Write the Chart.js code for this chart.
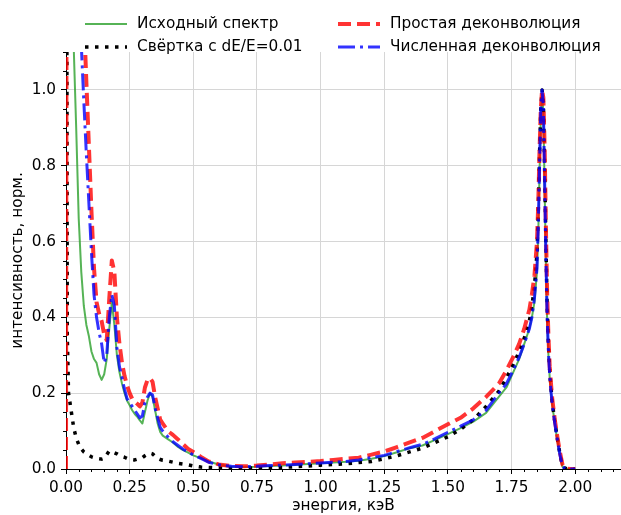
<!DOCTYPE html>
<html lang="ru">
<head>
<meta charset="utf-8">
<title>Деконволюция спектра</title>
<script src="https://cdn.jsdelivr.net/npm/chart.js@4.4.1/dist/chart.umd.min.js"></script>
<style>
  html, body { margin: 0; padding: 0; background: #fff; }
  #wrap { width: 621px; height: 515px; }
</style>
</head>
<body>
<div id="wrap"><canvas id="spectrum" width="621" height="515"></canvas></div>
<script>
// --- данные ---
const energy = [
  0, 0.005, 0.01, 0.02, 0.03, 0.04, 0.05, 0.06, 0.07, 0.08,
  0.09, 0.10, 0.11, 0.12, 0.13, 0.14, 0.15, 0.16, 0.17, 0.18,
  0.19, 0.20, 0.21, 0.22, 0.23, 0.24, 0.25, 0.26, 0.27, 0.28,
  0.29, 0.30, 0.31, 0.32, 0.33, 0.34, 0.35, 0.36, 0.37, 0.38,
  0.40, 0.42, 0.44, 0.46, 0.48, 0.50, 0.53, 0.56, 0.60, 0.65,
  0.70, 0.75, 0.80, 0.85, 0.90, 0.95, 1.00, 1.05, 1.10, 1.15,
  1.20, 1.25, 1.30, 1.35, 1.40, 1.45, 1.50, 1.55, 1.60, 1.65,
  1.70, 1.73, 1.76, 1.78, 1.80, 1.82, 1.83, 1.84, 1.85, 1.855,
  1.86, 1.865, 1.87, 1.875, 1.88, 1.885, 1.89, 1.895, 1.90, 1.905,
  1.91, 1.92, 1.93, 1.94, 1.95, 1.96, 1.98, 2.00
];
const sourceSpectrum = [
  5, 4, 3, 1.5, 1.12, 0.9, 0.66, 0.52, 0.43, 0.38,
  0.35, 0.31, 0.29, 0.28, 0.25, 0.235, 0.25, 0.29, 0.37, 0.44,
  0.38, 0.3, 0.255, 0.225, 0.2, 0.18, 0.168, 0.155, 0.145, 0.138,
  0.128, 0.12, 0.15, 0.18, 0.2, 0.19, 0.155, 0.12, 0.098, 0.088,
  0.079, 0.07, 0.058, 0.05, 0.043, 0.036, 0.028, 0.02, 0.012, 0.006,
  0.005, 0.006, 0.008, 0.009, 0.011, 0.013, 0.015, 0.017, 0.019, 0.022,
  0.027, 0.034, 0.044, 0.055, 0.062, 0.077, 0.092, 0.108, 0.125, 0.148,
  0.19, 0.215, 0.26, 0.29, 0.33, 0.37, 0.4, 0.44, 0.52, 0.62,
  0.78, 0.93, 0.99, 0.94, 0.74, 0.55, 0.39, 0.3, 0.24, 0.2,
  0.17, 0.12, 0.075, 0.037, 0.006, 0.001, 0, 0
];
const convolved = [
  3, 0.35, 0.2, 0.155, 0.11, 0.082, 0.065, 0.053, 0.045, 0.04,
  0.036, 0.032, 0.03, 0.028, 0.027, 0.026, 0.028, 0.038, 0.048, 0.046,
  0.043, 0.04, 0.036, 0.033, 0.031, 0.028, 0.026, 0.025, 0.024, 0.026,
  0.028, 0.03, 0.035, 0.039, 0.042, 0.04, 0.033, 0.028, 0.025, 0.023,
  0.021, 0.018, 0.015, 0.013, 0.011, 0.008, 0.005, 0.004, 0.003, 0.002,
  0.002, 0.003, 0.003, 0.004, 0.006, 0.008, 0.01, 0.012, 0.014, 0.017,
  0.02, 0.027, 0.035, 0.045, 0.055, 0.07, 0.085, 0.105, 0.13, 0.165,
  0.205, 0.24, 0.28, 0.31, 0.345, 0.39, 0.43, 0.48, 0.57, 0.68,
  0.83, 0.95, 1.0, 0.97, 0.8, 0.6, 0.43, 0.33, 0.26, 0.215,
  0.175, 0.125, 0.08, 0.04, 0.008, 0.002, 0, 0
];
const simpleDeconv = [
  0, 3, 3, 2.6, 2.2, 1.9, 1.6, 1.4, 1.2, 1.02,
  0.85, 0.68, 0.53, 0.44, 0.41, 0.39, 0.355, 0.34, 0.45, 0.55,
  0.52, 0.4, 0.33, 0.28, 0.245, 0.22, 0.2, 0.185, 0.178, 0.172,
  0.165, 0.175, 0.215, 0.235, 0.24, 0.23, 0.19, 0.16, 0.13, 0.12,
  0.1, 0.09, 0.078, 0.065, 0.053, 0.045, 0.032, 0.02, 0.012, 0.008,
  0.007, 0.009, 0.012, 0.015, 0.017, 0.019, 0.021, 0.024, 0.027, 0.03,
  0.038, 0.046, 0.058, 0.07, 0.082, 0.1, 0.118, 0.135, 0.16, 0.19,
  0.225, 0.26, 0.3, 0.33, 0.37, 0.42, 0.46, 0.51, 0.6, 0.7,
  0.84, 0.95, 1.0, 0.98, 0.85, 0.64, 0.46, 0.35, 0.27, 0.225,
  0.185, 0.13, 0.085, 0.045, 0.012, 0.002, 0, 0
];
const numericDeconv = [
  5, 4.5, 4, 3, 2.2, 1.7, 1.35, 1.12, 0.97, 0.83,
  0.7, 0.57, 0.46, 0.4, 0.36, 0.33, 0.28, 0.3, 0.4, 0.46,
  0.43, 0.32, 0.27, 0.24, 0.21, 0.185, 0.175, 0.165, 0.155, 0.145,
  0.135, 0.14, 0.175, 0.19, 0.2, 0.195, 0.16, 0.135, 0.11, 0.1,
  0.085, 0.072, 0.062, 0.052, 0.045, 0.037, 0.028, 0.018, 0.011, 0.007,
  0.006, 0.007, 0.009, 0.01, 0.012, 0.014, 0.016, 0.018, 0.02, 0.024,
  0.03, 0.036, 0.046, 0.056, 0.065, 0.08, 0.097, 0.113, 0.13, 0.155,
  0.2, 0.225, 0.265, 0.295, 0.33, 0.37, 0.4, 0.45, 0.53, 0.64,
  0.8, 0.95, 1.0, 0.96, 0.76, 0.56, 0.4, 0.31, 0.245, 0.205,
  0.17, 0.12, 0.077, 0.038, 0.007, 0.001, 0, 0
];
const xTicks = [0, 0.25, 0.5, 0.75, 1.0, 1.25, 1.5, 1.75, 2.0];
const yTicks = [0, 0.2, 0.4, 0.6, 0.8, 1.0];

const FONT_PX = 15.3;
Chart.defaults.font.family = '"DejaVu Sans", sans-serif';
Chart.defaults.font.size = FONT_PX;
Chart.defaults.color = '#000';

function toPoints(ys) {
    return energy.map((e, i) => ({ x: e, y: ys[i] }));
}

// малые деления, как в matplotlib
const minorTicks = {
    id: 'minorTicks',
    afterDraw(chart) {
        const { ctx, chartArea, scales: { x, y } } = chart;
        ctx.save();
        ctx.strokeStyle = '#000';
        ctx.lineWidth = 1;
        ctx.beginPath();
        for (let k = 1; k * 0.05 <= x.max + 1e-9; k++) {
            if (k % 5 === 0) continue;
            const px = Math.round(x.getPixelForValue(k * 0.05)) + 0.5;
            ctx.moveTo(px, chartArea.bottom);
            ctx.lineTo(px, chartArea.bottom + 3);
        }
        for (let k = 1; k * 0.05 <= y.max + 1e-9; k++) {
            if (k % 4 === 0) continue;
            const py = Math.round(y.getPixelForValue(k * 0.05)) + 0.5;
            ctx.moveTo(chartArea.left, py);
            ctx.lineTo(chartArea.left - 3, py);
        }
        ctx.stroke();
        ctx.restore();
    }
};

// легенда в две колонки над графиком
const legendBox = {
    id: 'legendBox',
    afterDraw(chart) {
        const ctx = chart.ctx;
        const places = [
            { i: 0, x: 85, y: 24 },
            { i: 1, x: 85, y: 47 },
            { i: 2, x: 338, y: 24 },
            { i: 3, x: 338, y: 47 }
        ];
        ctx.save();
        ctx.font = FONT_PX + 'px "DejaVu Sans", sans-serif';
        ctx.textBaseline = 'middle';
        ctx.fillStyle = '#000';
        places.forEach(p => {
            const ds = chart.data.datasets[p.i];
            ctx.beginPath();
            ctx.strokeStyle = ds.borderColor;
            ctx.lineWidth = ds.borderWidth;
            ctx.setLineDash(ds.borderDash || []);
            ctx.lineCap = 'butt';
            ctx.moveTo(p.x, p.y);
            ctx.lineTo(p.x + 42, p.y);
            ctx.stroke();
            ctx.setLineDash([]);
            ctx.fillText(ds.label, p.x + 52, p.y);
        });
        ctx.restore();
    }
};

const common = { pointRadius: 0, fill: false, tension: 0, clip: 0, borderJoinStyle: 'round' };

new Chart(document.getElementById('spectrum'), {
    type: 'line',
    data: {
        datasets: [
            { ...common, label: 'Исходный спектр', data: toPoints(sourceSpectrum),
              borderColor: 'rgba(44,160,44,0.8)', borderWidth: 2, order: 4 },
            { ...common, label: 'Свёртка с dE/E=0.01', data: toPoints(convolved),
              borderColor: '#000', borderWidth: 3.5, borderDash: [3.5, 6.5], order: 3 },
            { ...common, label: 'Простая деконволюция', data: toPoints(simpleDeconv),
              borderColor: 'rgba(255,0,0,0.8)', borderWidth: 4, borderDash: [13, 6], order: 2 },
            { ...common, label: 'Численная деконволюция', data: toPoints(numericDeconv),
              borderColor: 'rgba(0,0,255,0.8)', borderWidth: 3, borderDash: [17, 5, 3, 5], order: 1 }
        ]
    },
    options: {
        responsive: false,
        animation: false,
        devicePixelRatio: 1,
        layout: { padding: { top: 52, left: 0, right: 0, bottom: 0 } },
        plugins: { legend: { display: false }, tooltip: { enabled: false } },
        scales: {
            x: {
                type: 'linear', min: 0, max: 2.18,
                afterBuildTicks: s => { s.ticks = xTicks.map(v => ({ value: v })); },
                afterFit: s => { s.height = 46; },
                ticks: { callback: v => v.toFixed(2), padding: 5, maxRotation: 0, autoSkip: false },
                grid: { color: '#d6d6d6', lineWidth: 1, tickColor: '#000', tickLength: 5 },
                border: { color: '#000', width: 1 },
                title: { display: true, text: 'энергия, кэВ', padding: 0 }
            },
            y: {
                type: 'linear', min: 0, max: 1.1,
                afterBuildTicks: s => { s.ticks = yTicks.map(v => ({ value: v })); },
                afterFit: s => { s.width = 66; },
                ticks: { callback: v => v.toFixed(1), padding: 5 },
                grid: { color: '#d6d6d6', lineWidth: 1, tickColor: '#000', tickLength: 5 },
                border: { color: '#000', width: 1 },
                title: { display: true, text: 'интенсивность, норм.', padding: { top: 9, bottom: 0 } }
            }
        }
    },
    plugins: [minorTicks, legendBox]
});
</script>
</body>
</html>
